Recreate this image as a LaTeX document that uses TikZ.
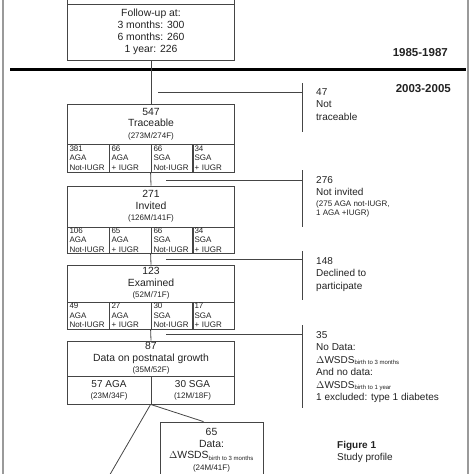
\documentclass[tikz,border=0pt]{standalone}
\usepackage{fontspec}
\setmainfont{Liberation Sans}
\usepackage{xcolor}
\usepackage{tikz}
\usetikzlibrary{positioning}
\definecolor{ink}{HTML}{222222}
\definecolor{rulegray}{HTML}{454545}
\definecolor{framegray}{HTML}{9A9A9A}
\newcommand{\sm}{\fontsize{8}{9.5}\selectfont}

\begin{document}
\begin{tikzpicture}[x=1pt, y=-1pt,
    box/.style={rectangle, draw=rulegray, line width=0.8pt, minimum width=167pt, text=ink, align=center, inner sep=0pt, font=\fontsize{10.4}{11.5}\selectfont},
    cell/.style={rectangle, draw=rulegray, line width=0.8pt, minimum width=42pt, text width=37pt, align=left, inner xsep=2.5pt, inner ysep=0pt, text=ink, font=\fontsize{8}{9.3}\selectfont},
    half/.style={rectangle, draw=rulegray, line width=0.8pt, minimum height=28pt, align=center, inner sep=0pt, text=ink, font=\fontsize{10}{11}\selectfont},
    note/.style={anchor=north west, align=left, inner sep=0pt, text=ink, font=\fontsize{10}{12.5}\selectfont},
    period/.style={anchor=east, inner sep=0pt, text=ink, font=\bfseries\fontsize{11.5}{13}\selectfont},
    link/.style={draw=rulegray, line width=0.8pt}
]
\useasboundingbox (0,0) rectangle (474,474);
\clip (0,0) rectangle (474,474);

% Frame and period separator
\draw[framegray, line width=1.4pt] (3,0) -- (3,474);
\draw[framegray, line width=1.4pt] (468,0) -- (468,474);
\draw[black, line width=3.8pt] (10,69.5) -- (466,69.5);
\node[period] (early) at (448,53) {1985-1987};
\node[period] (late) at (451,89) {2003-2005};

% 1985-1987 cohort
\node[box, minimum height=30pt] (enrol) at (151,-11) {};
\node[box, minimum height=56pt] (follow) at (151,32) {Follow-up at:\\[0.6pt]3 months: 300\\[0.6pt]6 months: 260\\[0.6pt]1 year: 226};

% Traceable
\node[box, minimum height=40pt] (trace) at (151,124) {547\\Traceable\\{\sm (273M/274F)}};
\node[cell, minimum height=28pt] (trace1) at (88,158) {381\\AGA\\Not-IUGR};
\node[cell, minimum height=28pt] (trace2) at (130,158) {66\\AGA\\+ IUGR};
\node[cell, minimum height=28pt] (trace3) at (172,158) {66\\SGA\\Not-IUGR};
\node[cell, minimum height=28pt] (trace4) at (213,158) {34\\SGA\\+ IUGR};

% Invited
\node[box, minimum height=41pt] (invited) at (151,206.5) {271\\Invited\\{\sm (126M/141F)}};
\node[cell, minimum height=26pt] (inv1) at (88,240) {106\\AGA\\Not-IUGR};
\node[cell, minimum height=26pt] (inv2) at (130,240) {65\\AGA\\+ IUGR};
\node[cell, minimum height=26pt] (inv3) at (172,240) {66\\SGA\\Not-IUGR};
\node[cell, minimum height=26pt] (inv4) at (213,240) {34\\SGA\\+ IUGR};

% Examined
\node[box, minimum height=37pt] (exam) at (151,283.5) {123\\Examined\\{\sm (52M/71F)}};
\node[cell, minimum height=27pt] (exam1) at (88,315.5) {49\\AGA\\Not-IUGR};
\node[cell, minimum height=27pt] (exam2) at (130,315.5) {27\\AGA\\+ IUGR};
\node[cell, minimum height=27pt] (exam3) at (172,315.5) {30\\SGA\\Not-IUGR};
\node[cell, minimum height=27pt] (exam4) at (213,315.5) {17\\SGA\\+ IUGR};

% Postnatal growth
\node[box, minimum height=35pt] (post) at (151,358.5) {87\\Data on postnatal growth\\{\sm (35M/52F)}};
\node[half, minimum width=84pt] (postaga) at (109,390) {57 AGA\\{\sm (23M/34F)}};
\node[half, minimum width=83pt] (postsga) at (192.5,390) {30 SGA\\{\sm (12M/18F)}};
\node[box, minimum width=103pt, minimum height=56pt] (dat65) at (211.5,450) {65\\Data:\\$\Delta$WSDS\textsubscript{\fontsize{6}{7}\selectfont birth to 3 months}\\{\sm (24M/41F)}};
\coordinate (agaout) at (101,490);

% Exclusion notes
\node[note] (nottrace) at (316,88) {47\\Not\\traceable};
\node[note] (notinv) at (316,176) {276\\Not invited\\[-2pt]{\sm (275 AGA not-IUGR,}\\[-3pt]{\sm 1 AGA +IUGR)}};
\node[note] (declined) at (316,257) {148\\Declined to\\participate};
\node[note] (nodata) at (316,331) {35\\No Data:\\$\Delta$WSDS\textsubscript{\fontsize{6}{7}\selectfont birth to 3 months}\\And no data:\\$\Delta$WSDS\textsubscript{\fontsize{6}{7}\selectfont birth to 1 year}\\1 excluded: type 1 diabetes};
\node[anchor=north west, align=left, inner sep=0pt, text=ink, font=\fontsize{10}{12.5}\selectfont] (figlbl) at (337,441) {{\bfseries Figure 1}\\Study profile};

% Brackets and branches
\coordinate (br1) at (158,92);  \coordinate (br1top) at (302,83);  \coordinate (br1bot) at (302,132);
\coordinate (br2) at (166,180); \coordinate (br2top) at (302,170); \coordinate (br2bot) at (302,227);
\coordinate (br3) at (166,259); \coordinate (br3top) at (302,251); \coordinate (br3bot) at (302,300);
\coordinate (br4) at (166,334); \coordinate (br4top) at (302,325); \coordinate (br4bot) at (302,408);

\draw[link] (br1top) -- (br1bot);
\draw[link] (br2top) -- (br2bot);
\draw[link] (br3top) -- (br3bot);
\draw[link] (br4top) -- (br4bot);
\draw[link] (br1) -- (br1 -| br1top);
\draw[link] (br2) -- (br2 -| br2top);
\draw[link] (br3) -- (br3 -| br3top);
\draw[link] (br4) -- (br4 -| br4top);

% Main flow
\draw[link] (follow.south) -- (trace.north);
\draw[link] (trace3.south west) -- (invited.north);
\draw[link] (inv3.south west) -- (exam.north);
\draw[link] (exam3.south west) -- (post.north);
\draw[link] (postsga.south west) -- (agaout);
\draw[link] (postsga.south west) -- ([xshift=-8pt]dat65.north);

\end{tikzpicture}
\end{document}
